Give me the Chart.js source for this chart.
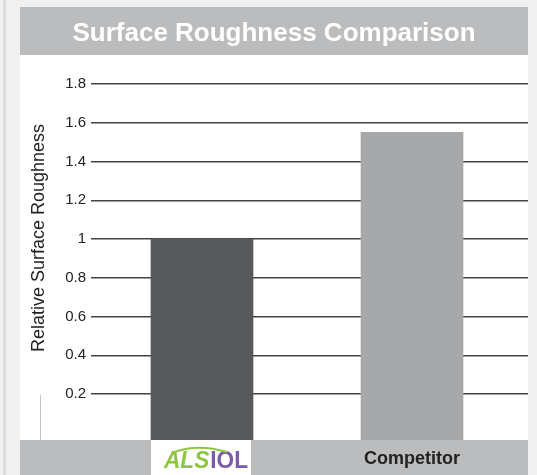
<!DOCTYPE html>
<html>
<head>
<meta charset="utf-8">
<script src="https://cdn.jsdelivr.net/npm/chart.js@4/dist/chart.umd.min.js"></script>
<style>
  html, body { margin: 0; padding: 0; background: #f0f0f0; }
  canvas { display: block; }
</style>
</head>
<body>
<canvas id="chart" width="537" height="475"></canvas>
<script>
// Products compared and their relative surface roughness
const categories = ['ALSIOL', 'Competitor'];
const roughness = [1.0, 1.55];
// Y axis tick values
const yTickValues = [0.2, 0.4, 0.6, 0.8, 1, 1.2, 1.4, 1.6, 1.8];

const titleText = 'Surface Roughness Comparison';
const yAxisTitle = 'Relative Surface Roughness';

const BAND = '#bbbcbe';
const BAR_COLORS = ['#58595b', '#a7a8aa'];
const PANEL_LEFT = 20, PANEL_RIGHT = 528;
const Y_MIN = -0.0374;

// Page panels: grey title band, white plot panel, grey label band
const panels = {
  id: 'panels',
  beforeDraw(chart) {
    const ctx = chart.ctx;
    const x = chart.scales.x;
    ctx.save();
    ctx.fillStyle = '#f0f0f0';
    ctx.fillRect(0, 0, chart.width, chart.height);
    ctx.fillStyle = '#dcdcdc';
    ctx.fillRect(3, 0, 3, chart.height);
    ctx.fillStyle = BAND;
    ctx.fillRect(PANEL_LEFT, 7, PANEL_RIGHT - PANEL_LEFT, 48);
    ctx.fillStyle = '#ffffff';
    ctx.fillRect(PANEL_LEFT, 55, PANEL_RIGHT - PANEL_LEFT, 385);
    ctx.fillStyle = BAND;
    ctx.fillRect(PANEL_LEFT, 440, PANEL_RIGHT - PANEL_LEFT, chart.height - 440);
    // white cell behind the ALSIOL label
    const cx = x.getPixelForValue(0);
    ctx.fillStyle = '#ffffff';
    ctx.fillRect(cx - 51, 440, 100, chart.height - 440);
    // short rule at the foot of the axis title
    ctx.strokeStyle = '#c4c4c4';
    ctx.lineWidth = 1;
    ctx.beginPath();
    ctx.moveTo(40.5, 395);
    ctx.lineTo(40.5, 440);
    ctx.stroke();
    ctx.restore();
  },
  afterDraw(chart) {
    const ctx = chart.ctx;
    ctx.save();
    // rotated y axis title
    ctx.translate(39, 238);
    ctx.rotate(-Math.PI / 2);
    ctx.fillStyle = '#222222';
    ctx.font = '18px "Liberation Sans", Arial, sans-serif';
    ctx.textAlign = 'center';
    ctx.textBaseline = 'middle';
    ctx.fillText(yAxisTitle, 0, 0);
    ctx.restore();

    // two-colour ALSIOL wordmark
    const word = categories[0];
    const a = word.slice(0, 3), b = word.slice(3);
    ctx.save();
    const fa = 'italic bold 23px "Liberation Sans Narrow", "Liberation Sans", Arial, sans-serif';
    const fb = 'bold 23px "Liberation Sans Narrow", "Liberation Sans", Arial, sans-serif';
    ctx.font = fa; const wa = ctx.measureText(a).width;
    ctx.font = fb; const wb = ctx.measureText(b).width;
    const gap = 1;
    const total = wa + gap + wb;
    const target = 84;
    const sx = target / total;
    const start = 164;
    const base = 468;
    ctx.translate(start, base);
    ctx.scale(sx, 1);
    ctx.textBaseline = 'alphabetic';
    ctx.textAlign = 'left';
    ctx.font = fa;
    ctx.fillStyle = '#8dc63f';
    ctx.fillText(a, 0, 0);
    ctx.font = fb;
    ctx.fillStyle = '#7d5ba6';
    ctx.fillText(b, wa + gap, 0);
    // arc over the green letters
    ctx.strokeStyle = '#8dc63f';
    ctx.lineWidth = 2;
    ctx.beginPath();
    ctx.moveTo(8, -15);
    ctx.quadraticCurveTo(wa / 2 + 10, -25, wa + 18, -16);
    ctx.stroke();
    ctx.restore();
  }
};

new Chart(document.getElementById('chart'), {
  type: 'bar',
  data: {
    datasets: [{
      data: roughness.map((v, i) => ({ x: i, y: v })),
      backgroundColor: BAR_COLORS,
      borderWidth: 0,
      barThickness: 102,
      base: Y_MIN
    }]
  },
  options: {
    responsive: false,
    devicePixelRatio: 1,
    animation: false,
    layout: { padding: { left: PANEL_LEFT, right: 537 - PANEL_RIGHT, top: 0, bottom: 0 } },
    plugins: {
      legend: { display: false },
      tooltip: { enabled: false },
      title: {
        display: true,
        text: titleText,
        color: '#ffffff',
        font: { family: '"Liberation Sans", Arial, sans-serif', size: 26, weight: 'bold', lineHeight: 1.2 },
        padding: { top: 18, bottom: 34.8 }
      }
    },
    scales: {
      x: {
        type: 'linear',
        offset: false,
        min: -0.5286,
        max: 1.5524,
        grid: { display: false, offset: false },
        border: { display: false },
        afterFit(s) { s.height = 35; },
        afterBuildTicks(s) { s.ticks = categories.map((_, i) => ({ value: i })); },
        ticks: {
          autoSkip: false,
          maxRotation: 0,
          padding: 0,
          color: (c) => c.index === 0 ? 'rgba(0,0,0,0)' : '#222222',
          font: { family: '"Liberation Sans", Arial, sans-serif', size: 18, weight: 'bold' },
          callback: (v) => categories[v]
        }
      },
      y: {
        min: Y_MIN,
        max: 1.8,
        grid: { color: '#444444', lineWidth: 1.5, drawTicks: false },
        border: { display: false },
        afterFit(s) { s.width = 91 - PANEL_LEFT; },
        afterBuildTicks(s) { s.ticks = yTickValues.map(v => ({ value: v })); },
        ticks: {
          padding: 5,
          color: '#222222',
          font: { family: '"Liberation Sans", Arial, sans-serif', size: 15 },
          callback: (v) => String(v)
        }
      }
    }
  },
  plugins: [panels]
});
</script>
</body>
</html>
